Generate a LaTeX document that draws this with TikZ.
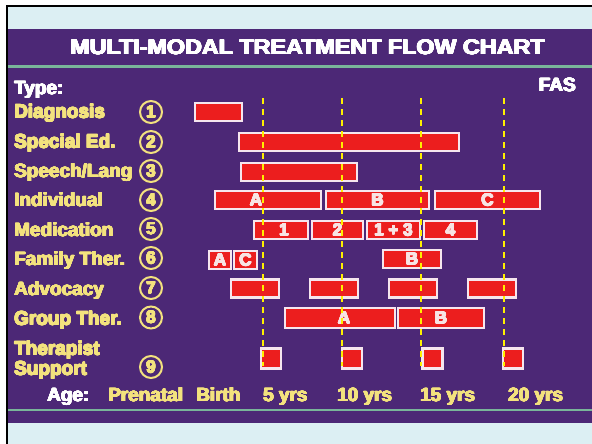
\documentclass[tikz,border=0pt]{standalone}
\usepackage{fontspec}
\setmainfont{Liberation Sans}
\usepackage[copies]{contour}
\contournumber{16}
\contourlength{0.45pt}
\definecolor{lightbg}{HTML}{DCEFF3}
\definecolor{purplebg}{HTML}{4C2876}
\definecolor{greenline}{HTML}{79B59A}
\definecolor{labyellow}{HTML}{F3E27E}
\definecolor{dashyellow}{HTML}{FFF000}
\definecolor{barred}{HTML}{EC1E1E}
\definecolor{barline}{HTML}{F6E6EE}
\definecolor{bartext}{HTML}{F8E4E4}
\newcommand\yl[1]{\contour{labyellow}{#1}}
\newcommand\wl[1]{\contour{white}{#1}}
\newcommand\bl[1]{\contour{bartext}{#1}}
\begin{document}
\begin{tikzpicture}[x=1pt,y=-1pt,
  rowlabel/.style={anchor=base west, inner sep=0pt, text=labyellow, font=\bfseries\fontsize{19}{20}\selectfont},
  agelabel/.style={rowlabel},
  whitelabel/.style={anchor=base west, inner sep=0pt, text=white, font=\bfseries\fontsize{19}{20}\selectfont},
  num/.style={circle, draw=labyellow, line width=2pt, minimum size=22pt, inner sep=0pt, text=labyellow, font=\bfseries\fontsize{17}{17}\selectfont},
  bar/.style={draw=barline, fill=barred, line width=2.2pt, minimum height=18pt, inner sep=0pt, text=bartext, font=\bfseries\fontsize{17}{17}\selectfont},
  guide/.style={dashyellow, line width=2pt, dash pattern=on 6pt off 5pt}
]
\useasboundingbox (0,0) rectangle (592,444);
\fill[white] (0,0) rectangle (592,444);
\fill[lightbg] (7,6) rectangle (592,444);
\fill[purplebg] (8,29) rectangle (592,423);
\draw[black, line width=2pt] (7,444) -- (7,6) -- (592,6);
\draw[greenline, line width=2.5pt] (8,66.5) -- (592,66.5);
\draw[greenline, line width=2.5pt] (8,410) -- (592,410);

% title
\node[anchor=base, inner sep=0pt, text=white, font=\bfseries\fontsize{21}{22}\selectfont] (title) at (307.5,54.5) {\scalebox{1.11}[1]{\wl{MULTI-MODAL TREATMENT FLOW CHART}}};
\node[whitelabel] (type) at (14,94.5) {\wl{Type:}};
\node[whitelabel, anchor=base east] (fas) at (576,91.5) {\wl{FAS}};

% row labels
\node[rowlabel] (l1) at (14,118) {\yl{Diagnosis}};
\node[rowlabel] (l2) at (14,148) {\yl{Special Ed.}};
\node[rowlabel] (l3) at (14,177.5) {\yl{Speech/Lang}};
\node[rowlabel] (l4) at (14,206.5) {\yl{Individual}};
\node[rowlabel] (l5) at (14,236.5) {\yl{Medication}};
\node[rowlabel] (l6) at (14,265.5) {\yl{Family Ther.}};
\node[rowlabel] (l7) at (14,295.5) {\yl{Advocacy}};
\node[rowlabel] (l8) at (14,325) {\yl{Group Ther.}};
\node[rowlabel] (l9a) at (14,355) {\yl{Therapist}};
\node[rowlabel] (l9b) at (14,375) {\yl{Support}};

% numbers
\node[num] (n1) at (151,112) {\yl{1}};
\node[num] (n2) at (151,142) {\yl{2}};
\node[num] (n3) at (151,171) {\yl{3}};
\node[num] (n4) at (151,200) {\yl{4}};
\node[num] (n5) at (151,229) {\yl{5}};
\node[num] (n6) at (151,258) {\yl{6}};
\node[num] (n7) at (151,288) {\yl{7}};
\node[num] (n8) at (151,317.5) {\yl{8}};
\node[num] (n9) at (151,367) {\yl{9}};

% bars
\node[bar, minimum width=47pt] (diag) at (218.5,112) {};
\node[bar, minimum width=220pt] (sped) at (349,142) {};
\node[bar, minimum width=116pt] (speech) at (299,172) {};
\node[bar, minimum width=106pt] (indA) at (268,200) {\bl{A}\hspace*{24pt}};
\node[bar, minimum width=103pt] (indB) at (377.5,200) {\bl{B}};
\node[bar, minimum width=105pt] (indC) at (487.5,200) {\bl{C}};
\node[bar, minimum width=54pt] (med1) at (281,230) {\hspace*{6pt}\bl{1}};
\node[bar, minimum width=51pt] (med2) at (337.5,230) {\bl{2}};
\node[bar, minimum width=53pt] (med3) at (393.5,230) {\bl{1 + 3}};
\node[bar, minimum width=53pt] (med4) at (450.5,230) {\bl{4}};
\node[bar, minimum width=22pt] (famA) at (220,260) {\bl{A}};
\node[bar, minimum width=23pt] (famC) at (245.5,260) {\bl{C}};
\node[bar, minimum width=58pt] (famB) at (412,259) {\bl{B}};
\node[bar, minimum width=48pt] (adv1) at (255,288.5) {};
\node[bar, minimum width=48pt] (adv2) at (334,288.5) {};
\node[bar, minimum width=48pt] (adv3) at (413,288.5) {};
\node[bar, minimum width=48pt] (adv4) at (492,288.5) {};
\node[bar, minimum width=110pt, minimum height=20pt] (grpA) at (340,318) {\hspace*{8pt}\bl{A}};
\node[bar, minimum width=86pt, minimum height=20pt] (grpB) at (441,318) {\bl{B}};
\node[bar, minimum width=20pt, minimum height=20pt] (ts1) at (271,358.5) {};
\node[bar, minimum width=20pt, minimum height=20pt] (ts2) at (352,358.5) {};
\node[bar, minimum width=20pt, minimum height=20pt] (ts3) at (432.5,358.5) {};
\node[bar, minimum width=20pt, minimum height=20pt] (ts4) at (513,358.5) {};

% dashed guides
\foreach \gx [count=\i] in {263,342,421,504} {
  \coordinate (g\i t) at (\gx,98);
  \coordinate (g\i b) at (\gx,366);
  \draw[guide] (g\i t) -- (g\i b);
}

% age axis
\node[whitelabel] (age) at (47,401.5) {\wl{Age:}};
\node[agelabel] (a0) at (108,401.5) {\yl{Prenatal}};
\node[agelabel] (a1) at (196,401.5) {\yl{Birth}};
\node[agelabel] (a2) at (263,401.5) {\yl{5 yrs}};
\node[agelabel] (a3) at (337,401.5) {\yl{10 yrs}};
\node[agelabel] (a4) at (420,401.5) {\yl{15 yrs}};
\node[agelabel] (a5) at (508,401.5) {\yl{20 yrs}};
\end{tikzpicture}
\end{document}
